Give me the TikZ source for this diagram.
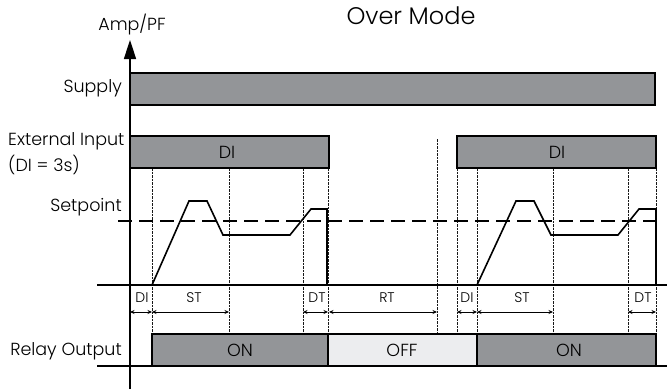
\documentclass[tikz,border=0pt]{standalone}
\usepackage{fontspec}
\setmainfont{Poppins}[UprightFont=* Light]
\usetikzlibrary{arrows.meta}
\definecolor{bargray}{RGB}{147,149,152}
\definecolor{offgray}{RGB}{236,237,239}
\begin{document}
\begin{tikzpicture}[x=1pt,y=-1pt,
  bar/.style={draw=black,line width=2pt,fill=bargray},
  offbar/.style={draw=black,line width=2pt,fill=offgray},
  guide/.style={line width=0.8pt,dash pattern=on 2.5pt off 1pt,black!90},
  dim/.style={line width=1pt,{Stealth[length=4.5pt,width=4pt]}-{Stealth[length=4.5pt,width=4pt]}},
  lab/.style={font=\fontsize{17.5}{19}\selectfont,inner sep=0pt},
  small/.style={font=\fontsize{14}{15}\selectfont,inner sep=0pt},
  wave/.style={line width=1.6pt,line join=miter}]
\useasboundingbox (0,0) rectangle (667,389);
% guides
\foreach \x in {152,229,303,328,457,477,553,628,656}
  \draw[guide] (\x,168) -- (\x,366);
\draw[guide] (437,139) -- (437,366);
% baselines
\draw[line width=1.5pt] (97,285) -- (667,285);
\draw[line width=1.5pt] (97,366) -- (667,366);
% setpoint
\draw[line width=1.5pt,dash pattern=on 14pt off 7pt] (118,221) -- (656,221);
% bars
\draw[bar,line width=1.5pt] (130,73) rectangle (655,105);
\draw[bar] (130,136) rectangle (329,168);
\draw[bar] (457,136) rectangle (656,168);
\draw[bar] (152,334) rectangle (328,366);
\draw[offbar] (328,334) rectangle (477,366);
\draw[bar] (477,334) rectangle (656,366);
% waveforms
\draw[wave] (152,285) -- (189,201) -- (207,201) -- (223,235) -- (290,235) -- (311,209) -- (327,209) -- (327,285);
\draw[wave] (477,285) -- (516,201) -- (534,201) -- (551,235) -- (618,235) -- (639,209) -- (656,209) -- (656,285);
% axis
\draw[line width=1.6pt,-{Triangle[length=19pt,width=12pt]}] (130,389) -- (130,40);
% dimension arrows
\draw[dim] (130,312) -- (152,312);
\draw[dim] (152,312) -- (229,312);
\draw[dim] (303,312) -- (328,312);
\draw[dim] (329,312) -- (437,312);
\draw[dim] (457,312) -- (477,312);
\draw[dim] (477,312) -- (553,312);
\draw[dim] (628,312) -- (656,312);
\node[small] (d1) at (142,298) {DI};
\node[small] (s1) at (194,298) {ST};
\node[small] (t1) at (317,298) {DT};
\node[small] (r1) at (387,298) {RT};
\node[small] (d2) at (467,298) {DI};
\node[small] (s2) at (522,298) {ST};
\node[small] (t2) at (643,298) {DT};
% texts
\node[font=\fontsize{24}{27}\selectfont,inner sep=0pt] (title) at (411,16) {Over Mode};
\node[lab] (amp) at (132,25) {Amp/PF};
\node[lab,anchor=east] (sup) at (122,88) {Supply};
\node[lab,anchor=west] (ext) at (8,141) {External Input};
\node[lab,anchor=west] (dis) at (8,165) {(DI = 3s)};
\node[lab,anchor=east] (set) at (122,207) {Setpoint};
\node[lab,anchor=east] (rel) at (122,351) {Relay Output};
\node[lab] (di1) at (227,152) {DI};
\node[lab] (di2) at (557,152) {DI};
\node[lab] (on1) at (240,350) {ON};
\node[lab] (off) at (402,350) {OFF};
\node[lab] (on2) at (569,350) {ON};
\end{tikzpicture}
\end{document}
